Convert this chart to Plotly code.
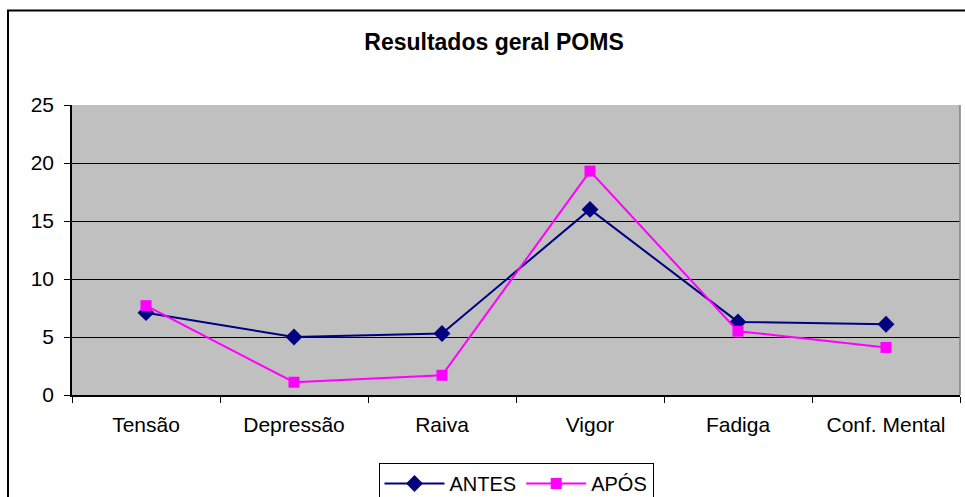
import plotly.graph_objects as go

categories = ["Tensão", "Depressão", "Raiva", "Vigor", "Fadiga", "Conf. Mental"]
antes = [7.1, 5.0, 5.3, 16.0, 6.3, 6.1]
apos = [7.7, 1.1, 1.7, 19.3, 5.5, 4.1]
series_names = ["ANTES", "APÓS"]
y_ticks = [0, 5, 10, 15, 20, 25]

W, H = 965, 497
L, R, T, B = 72, 5, 105, 102
pw = W - L - R
ph = H - T - B

font = "Liberation Sans, Arial, sans-serif"

fig = go.Figure()
fig.add_trace(go.Scatter(
    x=categories, y=antes, name=series_names[0], mode="lines+markers",
    line=dict(color="#000080", width=2),
    marker=dict(symbol="diamond", size=13, color="#000080"),
))
fig.add_trace(go.Scatter(
    x=categories, y=apos, name=series_names[1], mode="lines+markers",
    line=dict(color="#FF00FF", width=2),
    marker=dict(symbol="square", size=11, color="#FF00FF"),
))

def px_x(p):
    return (p - L) / pw

def px_y(p):
    return (H - B - p) / ph

fig.update_layout(
    width=W, height=H,
    margin=dict(l=L, r=R, t=T, b=B, autoexpand=False),
    paper_bgcolor="white",
    plot_bgcolor="#C0C0C0",
    font=dict(family=font, size=21, color="black"),
    title=dict(text="<b>Resultados geral POMS</b>", x=px_x(494), xref="paper",
               xanchor="center", y=1 - 42 / H, yref="container", yanchor="middle",
               font=dict(family=font, size=23, color="black")),
    showlegend=True,
    legend=dict(orientation="h", x=0.5, xanchor="center", y=px_y(463), yanchor="top",
                bgcolor="white", bordercolor="black", borderwidth=1,
                itemwidth=60,
                font=dict(family=font, size=20, color="black")),
    xaxis=dict(type="category", range=[-0.5, 5.5], showline=True, linecolor="black",
               linewidth=1.5, ticks="outside", tickson="boundaries", ticklen=6,
               tickcolor="black", showgrid=False, zeroline=False,
               ticklabelstandoff=10, fixedrange=True),
    yaxis=dict(range=[0, 25], tickvals=y_ticks, showline=True, linecolor="black",
               linewidth=1.5, ticks="outside", ticklen=6, tickcolor="black",
               showgrid=True, gridcolor="black", gridwidth=1, zeroline=False,
               ticklabelstandoff=6, fixedrange=True),
    shapes=[
        dict(type="line", xref="paper", yref="paper", x0=1, x1=1, y0=0, y1=1,
             line=dict(color="#808080", width=1.5)),
        dict(type="rect", xref="paper", yref="paper",
             x0=px_x(8), x1=px_x(W + 20), y0=px_y(H + 20), y1=px_y(10.5),
             line=dict(color="black", width=2), layer="below"),
    ],
)

fig.write_html("out.html", config={"displayModeBar": False},
               post_script="document.body.style.margin='0';")
